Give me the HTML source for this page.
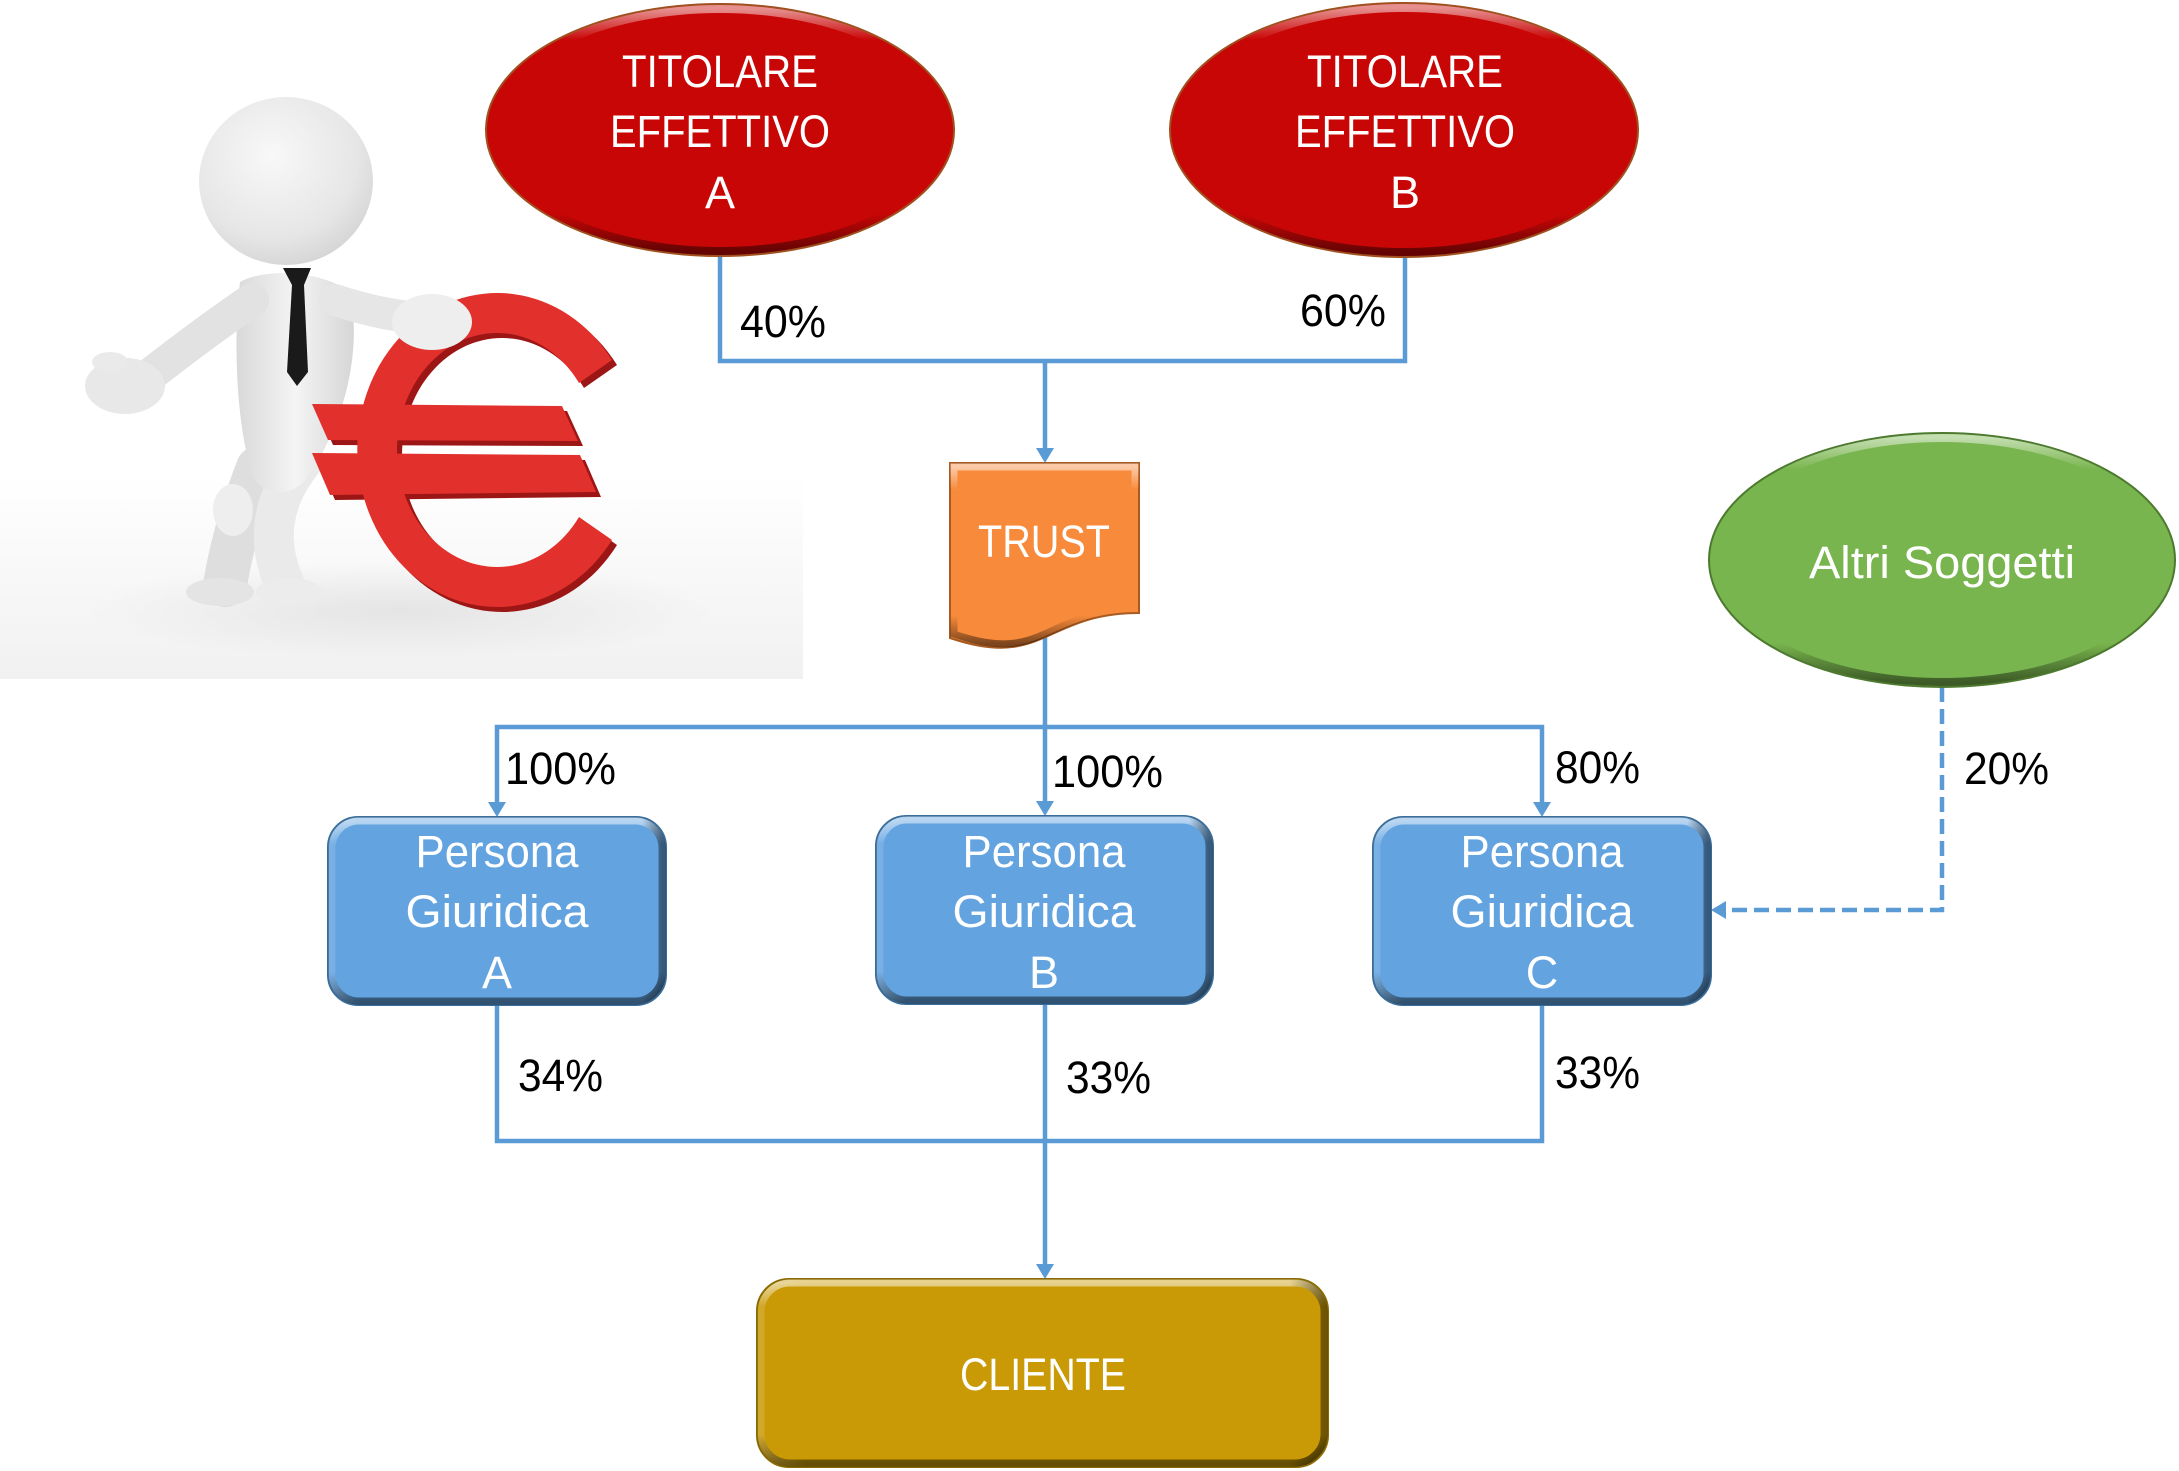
<!DOCTYPE html>
<html><head><meta charset="utf-8"><style>html,body{margin:0;padding:0;background:#fff}svg{display:block}</style></head>
<body>
<svg width="2179" height="1471" viewBox="0 0 2179 1471" xmlns="http://www.w3.org/2000/svg">
<defs>
<linearGradient id="photoBg" x1="0" y1="0" x2="0" y2="1">
<stop offset="0" stop-color="#ffffff"/><stop offset="0.7" stop-color="#ffffff"/><stop offset="1" stop-color="#f1f1f1"/>
</linearGradient>
<radialGradient id="shadowG" cx="0.5" cy="0.5" r="0.5">
<stop offset="0" stop-color="#000" stop-opacity="0.07"/><stop offset="1" stop-color="#000" stop-opacity="0"/>
</radialGradient>
<radialGradient id="headG" cx="0.42" cy="0.35" r="0.7">
<stop offset="0" stop-color="#f8f8f8"/><stop offset="0.7" stop-color="#e6e6e6"/><stop offset="1" stop-color="#d3d3d3"/>
</radialGradient>
<linearGradient id="bodyG" x1="0" y1="0" x2="1" y2="0">
<stop offset="0" stop-color="#d9d9d9"/><stop offset="0.5" stop-color="#f4f4f4"/><stop offset="1" stop-color="#d6d6d6"/>
</linearGradient>
<linearGradient id="bev" x1="0" y1="0" x2="0" y2="1">
<stop offset="0" stop-color="#fff" stop-opacity="0.55"/>
<stop offset="0.13" stop-color="#fff" stop-opacity="0"/>
<stop offset="0.84" stop-color="#000" stop-opacity="0"/>
<stop offset="1" stop-color="#000" stop-opacity="0.5"/>
</linearGradient>
<linearGradient id="bevR" x1="0" y1="0" x2="1" y2="0">
<stop offset="0" stop-color="#fff" stop-opacity="0.15"/>
<stop offset="0.08" stop-color="#fff" stop-opacity="0"/>
<stop offset="0.94" stop-color="#000" stop-opacity="0"/>
<stop offset="1" stop-color="#000" stop-opacity="0.45"/>
</linearGradient>
</defs>

<!-- photo area -->
<rect x="0" y="0" width="803" height="679" fill="url(#photoBg)"/>
<ellipse cx="400" cy="610" rx="320" ry="50" fill="url(#shadowG)"/>

<!-- man: legs -->
<path d="M258,468 Q234,530 225,585" stroke="#dedede" stroke-width="44" stroke-linecap="round" fill="none"/>
<path d="M302,462 Q256,520 285,585" stroke="#eaeaea" stroke-width="40" stroke-linecap="round" fill="none"/>
<ellipse cx="220" cy="592" rx="34" ry="14" fill="#e4e4e4"/>
<ellipse cx="289" cy="592" rx="33" ry="14" fill="#ececec"/>
<ellipse cx="233" cy="510" rx="20" ry="26" fill="#eeeeee"/>
<!-- torso -->
<path d="M240,282 C265,268 320,270 350,292 C362,350 345,420 312,470 C300,495 270,500 255,480 C238,440 232,350 240,282 Z" fill="url(#bodyG)"/>
<!-- left arm -->
<path d="M252,300 Q205,332 150,375" stroke="#e2e2e2" stroke-width="34" stroke-linecap="round" fill="none"/>
<ellipse cx="125" cy="386" rx="40" ry="28" fill="#e8e8e8"/>
<ellipse cx="110" cy="362" rx="18" ry="10" fill="#eaeaea"/>
<!-- head -->
<ellipse cx="286" cy="181" rx="87" ry="84" fill="url(#headG)"/>
<!-- tie -->
<path d="M283,268 L311,268 L304,285 L308,372 L297,386 L287,372 L292,285 Z" fill="#1a1a1a"/>

<!-- euro -->
<g transform="translate(5,5)" fill="#9c1616">
<path d="M612,360 A140,157 0 1 0 612,540 L579,517 A100,117 0 1 1 579,383 Z"/>
<path d="M312,404 L562,406 L578,441 L328,440 Z"/>
<path d="M312,453 L580,455 L596,492 L330,495 Z"/>
</g>
<g fill="#e2302c">
<path d="M612,360 A140,157 0 1 0 612,540 L579,517 A100,117 0 1 1 579,383 Z"/>
<path d="M312,404 L562,406 L578,441 L328,440 Z"/>
<path d="M312,453 L580,455 L596,492 L330,495 Z"/>
</g>
<!-- right arm + hand -->
<path d="M335,300 Q380,315 420,318" stroke="#e6e6e6" stroke-width="32" stroke-linecap="round" fill="none"/>
<ellipse cx="432" cy="322" rx="40" ry="28" fill="#eeeeee"/>

<!-- connectors -->
<g stroke="#5b9bd5" stroke-width="4.5" fill="none">
<polyline points="720,250 720,361 1405,361 1405,250"/>
<line x1="1045" y1="361" x2="1045" y2="450"/>
<line x1="1045" y1="630" x2="1045" y2="727"/>
<polyline points="497,805 497,727 1542,727 1542,805"/>
<line x1="1045" y1="727" x2="1045" y2="805"/>
<polyline points="497,1000 497,1141 1542,1141 1542,1000"/>
<line x1="1045" y1="1000" x2="1045" y2="1266"/>
<polyline points="1942,687 1942,910 1726,910" stroke-dasharray="15 7"/>
</g>
<g fill="#5b9bd5">
<polygon points="1036,448 1054,448 1045,463"/>
<polygon points="488,802 506,802 497,817"/>
<polygon points="1036,801 1054,801 1045,816"/>
<polygon points="1533,802 1551,802 1542,817"/>
<polygon points="1036,1264 1054,1264 1045,1279"/>
<polygon points="1726,901 1726,919 1711,910"/>
</g>

<!-- red ellipses -->
<ellipse cx="720" cy="130" rx="234" ry="126" fill="#c90606" stroke="#a0501e" stroke-width="2"/>
<ellipse cx="720" cy="130" rx="229" ry="121" fill="none" stroke="url(#bev)" stroke-width="8"/>
<ellipse cx="1404" cy="130" rx="234" ry="127" fill="#c90606" stroke="#a0501e" stroke-width="2"/>
<ellipse cx="1404" cy="130" rx="229" ry="122" fill="none" stroke="url(#bev)" stroke-width="8"/>

<!-- TRUST -->
<path d="M950,463 H1139 V613 C1044.5,613 1044.5,670 950,638 Z" fill="#f88a3b" stroke="#a85a20" stroke-width="2"/>
<path d="M954,467 H1135 V610 C1044.5,610 1044.5,666 954,634 Z" fill="none" stroke="url(#bev)" stroke-width="7"/>

<!-- Altri Soggetti -->
<ellipse cx="1942" cy="560" rx="233" ry="127" fill="#79b54e" stroke="#4d7a2e" stroke-width="2"/>
<ellipse cx="1942" cy="560" rx="228" ry="122" fill="none" stroke="url(#bev)" stroke-width="8"/>

<!-- blue boxes -->
<g>
<rect x="328" y="817" width="338" height="188" rx="30" fill="#62a3e0" stroke="#3b6d9a" stroke-width="2"/>
<rect x="332" y="821" width="330" height="180" rx="27" fill="none" stroke="url(#bev)" stroke-width="7"/>
<rect x="332" y="821" width="330" height="180" rx="27" fill="none" stroke="url(#bevR)" stroke-width="7"/>
<rect x="876" y="816" width="337" height="188" rx="30" fill="#62a3e0" stroke="#3b6d9a" stroke-width="2"/>
<rect x="880" y="820" width="329" height="180" rx="27" fill="none" stroke="url(#bev)" stroke-width="7"/>
<rect x="880" y="820" width="329" height="180" rx="27" fill="none" stroke="url(#bevR)" stroke-width="7"/>
<rect x="1373" y="817" width="338" height="188" rx="30" fill="#62a3e0" stroke="#3b6d9a" stroke-width="2"/>
<rect x="1377" y="821" width="330" height="180" rx="27" fill="none" stroke="url(#bev)" stroke-width="7"/>
<rect x="1377" y="821" width="330" height="180" rx="27" fill="none" stroke="url(#bevR)" stroke-width="7"/>
</g>

<!-- CLIENTE -->
<rect x="757" y="1279" width="571" height="188" rx="32" fill="#c99a05" stroke="#8a6a00" stroke-width="2"/>
<rect x="761" y="1283" width="563" height="180" rx="29" fill="none" stroke="url(#bev)" stroke-width="7"/>
<rect x="761" y="1283" width="563" height="180" rx="29" fill="none" stroke="url(#bevR)" stroke-width="7"/>

<!-- node text -->
<g font-family="'Liberation Sans', Arial, sans-serif" font-size="45" fill="#ffffff" text-anchor="middle">
<text x="720" y="87" textLength="196" lengthAdjust="spacingAndGlyphs">TITOLARE</text>
<text x="720" y="147" textLength="220" lengthAdjust="spacingAndGlyphs">EFFETTIVO</text>
<text x="720" y="208">A</text>
<text x="1405" y="87" textLength="196" lengthAdjust="spacingAndGlyphs">TITOLARE</text>
<text x="1405" y="147" textLength="220" lengthAdjust="spacingAndGlyphs">EFFETTIVO</text>
<text x="1405" y="208">B</text>
<text x="1044" y="557" textLength="132" lengthAdjust="spacingAndGlyphs">TRUST</text>
<text x="1942" y="578" textLength="266" lengthAdjust="spacingAndGlyphs">Altri Soggetti</text>
<text x="497" y="867" textLength="163" lengthAdjust="spacingAndGlyphs">Persona</text>
<text x="497" y="927" textLength="183" lengthAdjust="spacingAndGlyphs">Giuridica</text>
<text x="497" y="988">A</text>
<text x="1044" y="867" textLength="163" lengthAdjust="spacingAndGlyphs">Persona</text>
<text x="1044" y="927" textLength="183" lengthAdjust="spacingAndGlyphs">Giuridica</text>
<text x="1044" y="988">B</text>
<text x="1542" y="867" textLength="163" lengthAdjust="spacingAndGlyphs">Persona</text>
<text x="1542" y="927" textLength="183" lengthAdjust="spacingAndGlyphs">Giuridica</text>
<text x="1542" y="988">C</text>
<text x="1043" y="1390" textLength="166" lengthAdjust="spacingAndGlyphs">CLIENTE</text>
</g>

<!-- percentage labels -->
<g font-family="'Liberation Sans', Arial, sans-serif" font-size="45" fill="#000000">
<text x="740" y="337" textLength="86" lengthAdjust="spacingAndGlyphs">40%</text>
<text x="1300" y="326" textLength="86" lengthAdjust="spacingAndGlyphs">60%</text>
<text x="505" y="784" textLength="111" lengthAdjust="spacingAndGlyphs">100%</text>
<text x="1052" y="787" textLength="111" lengthAdjust="spacingAndGlyphs">100%</text>
<text x="1555" y="783" textLength="85" lengthAdjust="spacingAndGlyphs">80%</text>
<text x="1964" y="784" textLength="85" lengthAdjust="spacingAndGlyphs">20%</text>
<text x="518" y="1091" textLength="85" lengthAdjust="spacingAndGlyphs">34%</text>
<text x="1066" y="1093" textLength="85" lengthAdjust="spacingAndGlyphs">33%</text>
<text x="1555" y="1088" textLength="85" lengthAdjust="spacingAndGlyphs">33%</text>
</g>
</svg>
</body></html>
